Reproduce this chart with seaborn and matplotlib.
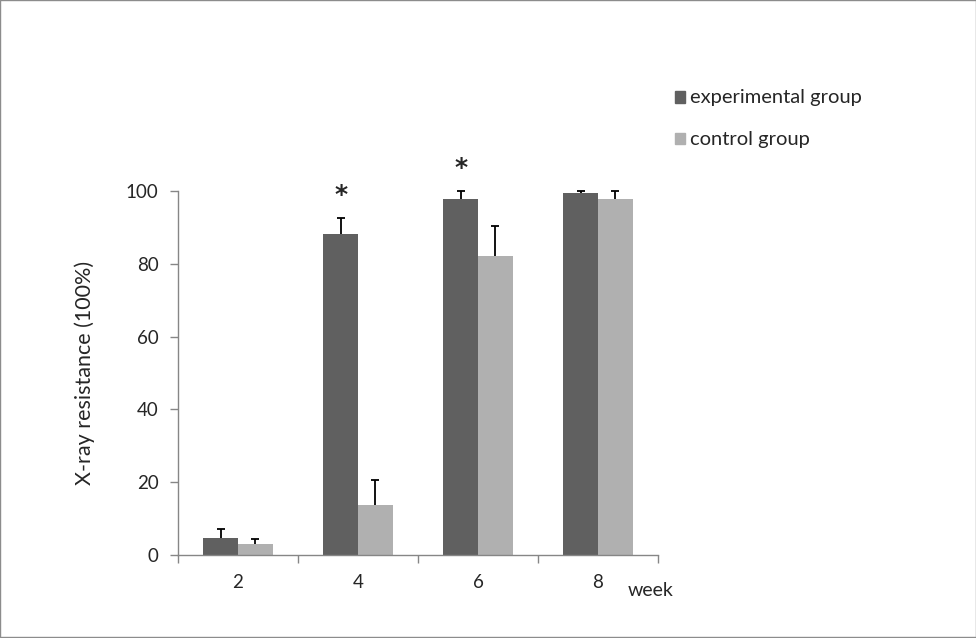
import pandas as pd
import numpy as np
import seaborn as sns
import matplotlib.pyplot as plt

# values
weeks = ["2", "4", "6", "8"]
experimental = [4.7, 88.2, 97.8, 99.5]
experimental_err = [2.4, 4.4, 2.2, 0.5]
control = [3.0, 13.7, 82.1, 97.8]
control_err = [1.4, 6.9, 8.3, 2.2]
star_weeks = ["4", "6"]
star_heights = [98.8, 106.2]

groups = ["experimental group", "control group"]
colors = ["#606060", "#b0b0b0"]

df = pd.DataFrame({
    "week": weeks * 2,
    "value": experimental + control,
    "group": [groups[0]] * 4 + [groups[1]] * 4,
})

sns.set_style("white")
plt.rcParams["font.family"] = ["Lato", "DejaVu Sans"]

fig = plt.figure(figsize=(9.76, 6.38), dpi=100)
ax = fig.add_axes([0.1824, 0.1301, 0.4918, 0.5705])

sns.barplot(data=df, x="week", y="value", hue="group", palette=colors,
            width=0.58, gap=0, errorbar=None, legend=False, ax=ax,
            edgecolor="none", saturation=1)

# upward-only error bars on the bar centres (stem + top cap)
errs = experimental_err + control_err
vals = experimental + control
for patch, v, e in zip(ax.patches, vals, errs):
    xc = patch.get_x() + patch.get_width() / 2
    ax.vlines(xc, v, v + e, color="black", linewidth=1.3, clip_on=False)
    ax.hlines(v + e, xc - 0.033, xc + 0.033, color="black", linewidth=1.3,
              clip_on=False)

for w, h in zip(star_weeks, star_heights):
    ax.text(weeks.index(w) - 0.145, h, "*", ha="center", va="center",
            fontsize=18, fontweight="bold", clip_on=False,
            family=["DejaVu Sans"])

ax.set_xlim(-0.5, 3.5)
ax.set_ylim(0, 100)
ax.set_yticks([0, 20, 40, 60, 80, 100])
ax.set_xticks(range(4))
ax.set_xticks(np.arange(-0.5, 4.0, 1.0), minor=True)
ax.tick_params(axis="x", which="major", length=0, pad=14, labelsize=13.5)
ax.tick_params(axis="x", which="minor", length=6, color="#868686", width=1,
               direction="out", bottom=True)
ax.tick_params(axis="y", length=6, color="#868686", width=1,
               direction="out", left=True, labelsize=13.5, pad=8)
ax.set_xlabel("")
ax.set_ylabel("X-ray resistance (100%)", fontsize=15.5, labelpad=22)

for s in ["top", "right"]:
    ax.spines[s].set_visible(False)
for s in ["left", "bottom"]:
    ax.spines[s].set_color("#868686")
    ax.spines[s].set_linewidth(1)

fig.text(628 / 976, 1 - 590 / 638, "week", fontsize=14, va="center")

# legend as squares and labels at the right
for i, (g, c) in enumerate(zip(groups, colors)):
    y = 1 - (97 + 42 * i) / 638
    fig.patches.append(plt.Rectangle((675 / 976, y - 5.5 / 638), 10 / 976,
                                     11 / 638, transform=fig.transFigure,
                                     color=c))
    fig.text(690 / 976, y, g, fontsize=14.5, va="center")

# thin grey frame around the whole picture
fig.patches.append(plt.Rectangle((0.0005, 0.0008), 0.999, 0.9985,
                                 transform=fig.transFigure, fill=False,
                                 edgecolor="#8c8c8c", linewidth=1))

fig.savefig("out.png", dpi=100)
